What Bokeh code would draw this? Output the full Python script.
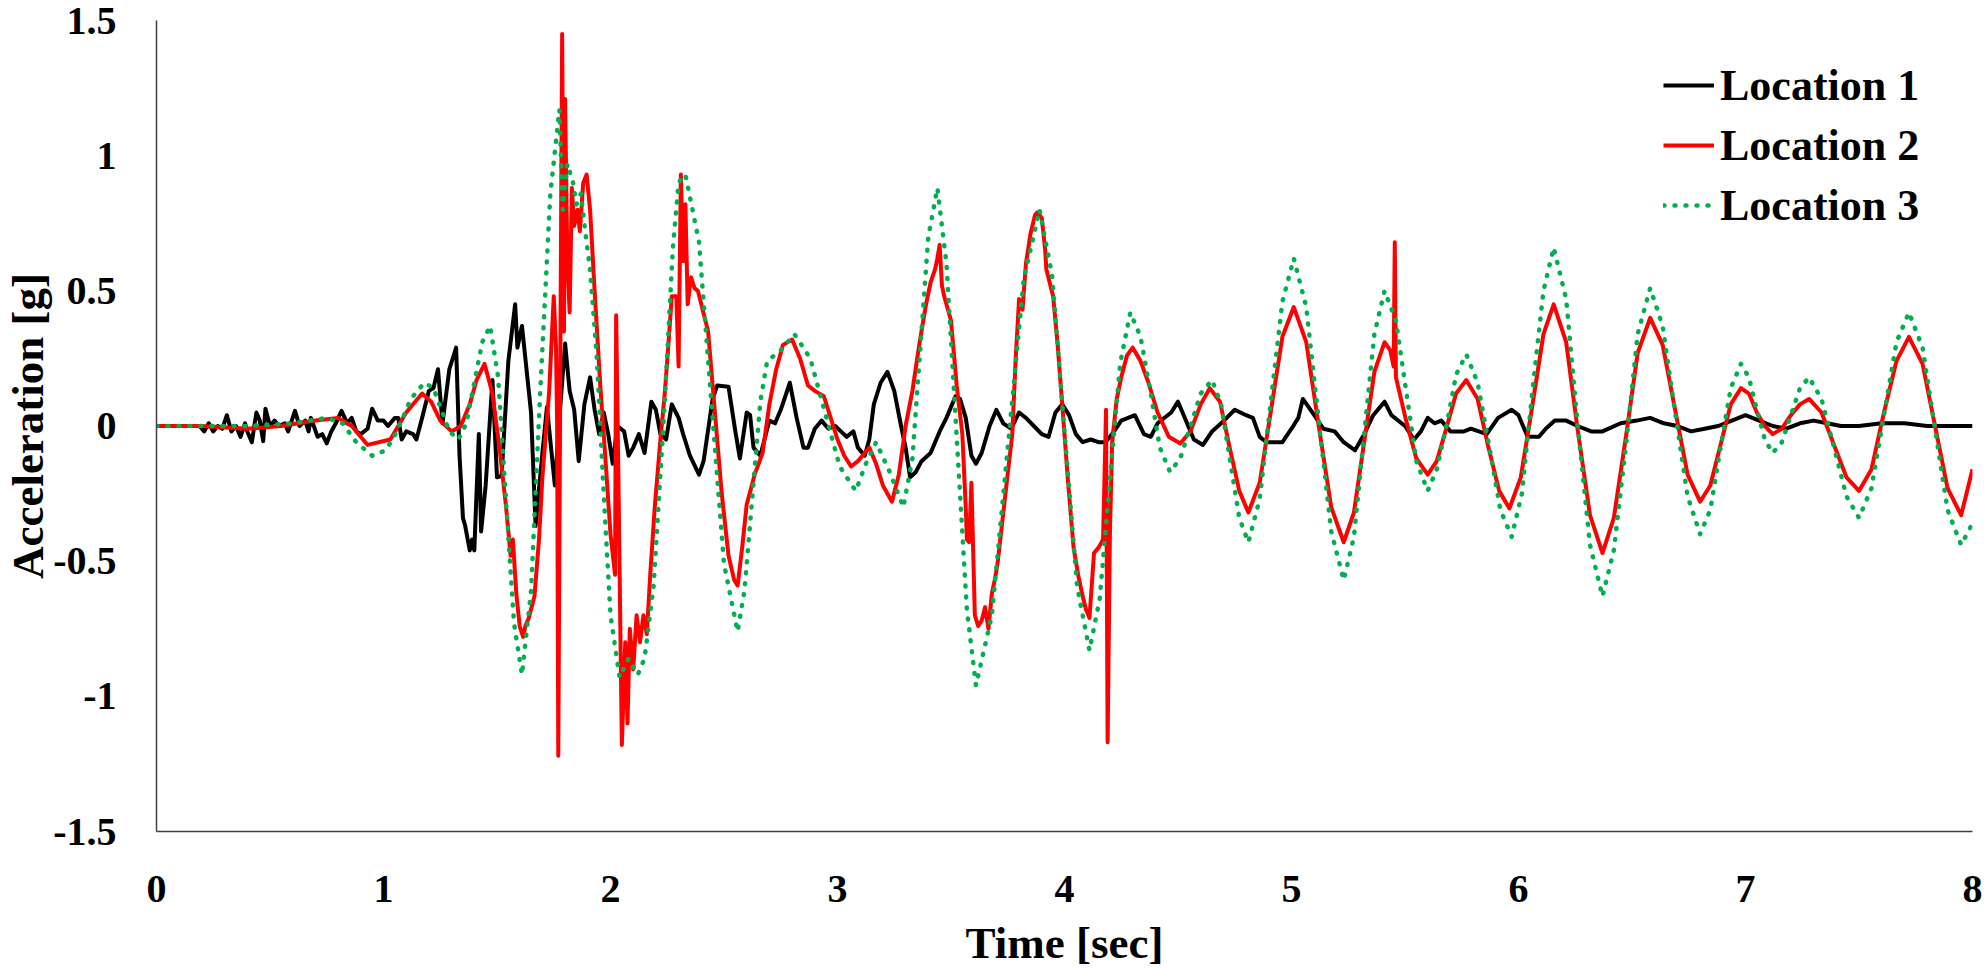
from bokeh.plotting import figure
from bokeh.models import FixedTicker, CustomJSTickFormatter, Legend, LegendItem, Range1d
from bokeh.embed import file_html
from bokeh.resources import INLINE

# ---------------- data (time [s], acceleration [g]) ----------------
location_1 = [
    (0.00,0.00),(0.19,0.00),(0.21,-0.02),(0.23,0.01),(0.25,-0.02),(0.27,0.00),(0.29,-0.01),(0.31,0.04),
    (0.33,-0.02),(0.35,0.00),(0.37,-0.04),(0.39,0.01),(0.40,-0.02),(0.42,-0.06),(0.44,0.05),(0.455,0.02),
    (0.47,-0.056),(0.48,0.064),(0.50,0.00),(0.52,0.02),(0.54,0.00),(0.565,0.01),(0.58,-0.02),(0.61,0.056),
    (0.63,0.00),(0.655,0.02),(0.67,-0.02),(0.68,0.03),(0.71,-0.04),(0.73,-0.03),(0.75,-0.064),(0.77,-0.02),
    (0.79,0.01),(0.815,0.056),(0.84,0.01),(0.86,0.03),(0.88,-0.02),(0.90,-0.03),(0.915,-0.02),(0.93,-0.01),
    (0.95,0.064),(0.975,0.02),(1.00,0.02),(1.02,0.00),(1.05,0.03),(1.065,0.03),(1.08,-0.05),(1.10,-0.02),
    (1.13,-0.03),(1.145,-0.05),(1.17,0.03),(1.20,0.13),(1.22,0.14),(1.24,0.21),(1.26,0.01),(1.29,0.21),
    (1.32,0.29),(1.335,-0.11),(1.35,-0.34),(1.36,-0.37),(1.38,-0.46),(1.39,-0.42),(1.40,-0.46),(1.42,-0.03),
    (1.43,-0.39),(1.45,-0.22),(1.48,0.17),(1.50,-0.19),(1.52,-0.185),(1.55,0.24),(1.58,0.45),(1.59,0.29),
    (1.61,0.37),(1.62,0.29),(1.65,0.05),(1.67,-0.37),(1.70,-0.10),(1.72,0.07),(1.755,-0.22),(1.775,0.03),
    (1.80,0.305),(1.82,0.13),(1.84,0.06),(1.86,-0.13),(1.885,0.08),(1.91,0.18),(1.93,0.06),(1.95,-0.03),
    (1.97,0.05),(1.99,-0.03),(2.01,-0.14),(2.03,0.00),(2.06,-0.02),(2.08,-0.11),(2.10,-0.08),(2.125,-0.03),
    (2.15,-0.10),(2.18,0.09),(2.20,0.06),(2.22,-0.03),(2.245,-0.05),(2.27,0.08),(2.30,0.03),(2.32,-0.03),
    (2.35,-0.11),(2.39,-0.18),(2.41,-0.13),(2.45,0.10),(2.47,0.15),(2.52,0.145),(2.55,-0.02),(2.57,-0.12),
    (2.60,0.05),(2.615,0.04),(2.63,-0.08),(2.66,-0.11),(2.70,0.02),(2.725,0.01),(2.75,0.06),(2.79,0.16),
    (2.82,0.03),(2.85,-0.08),(2.87,-0.08),(2.90,-0.01),(2.93,0.02),(2.96,-0.01),(2.99,0.00),(3.015,-0.02),
    (3.04,-0.04),(3.07,-0.02),(3.09,-0.08),(3.12,-0.11),(3.14,-0.05),(3.16,0.08),(3.19,0.16),(3.22,0.20),
    (3.25,0.13),(3.28,0.00),(3.30,-0.08),(3.32,-0.19),(3.345,-0.17),(3.37,-0.13),(3.41,-0.10),(3.45,-0.02),
    (3.48,0.03),(3.52,0.11),(3.54,0.10),(3.565,0.03),(3.59,-0.11),(3.61,-0.14),(3.635,-0.10),(3.67,0.00),
    (3.70,0.06),(3.73,0.01),(3.765,-0.01),(3.80,0.05),(3.83,0.03),(3.865,0.00),(3.90,-0.03),(3.93,-0.04),
    (3.96,0.05),(3.99,0.08),(4.02,0.04),(4.05,-0.03),(4.08,-0.06),(4.115,-0.05),(4.15,-0.06),(4.18,-0.06),
    (4.21,-0.03),(4.25,0.02),(4.31,0.04),(4.35,-0.03),(4.38,-0.04),(4.41,0.01),(4.47,0.05),(4.50,0.09),
    (4.52,0.05),(4.57,-0.05),(4.61,-0.07),(4.65,-0.02),(4.69,0.01),(4.75,0.06),(4.80,0.04),(4.83,0.03),
    (4.86,-0.04),(4.89,-0.06),(4.96,-0.06),(5.00,-0.01),(5.03,0.03),(5.05,0.10),(5.10,0.04),(5.14,-0.01),
    (5.19,-0.02),(5.23,-0.06),(5.28,-0.09),(5.32,-0.03),(5.36,0.04),(5.41,0.09),(5.44,0.04),(5.50,0.00),
    (5.54,-0.05),(5.57,-0.02),(5.60,0.03),(5.63,0.01),(5.66,0.02),(5.70,-0.02),(5.76,-0.02),(5.79,-0.01),
    (5.86,-0.03),(5.91,0.03),(5.97,0.06),(6.00,0.04),(6.04,-0.04),(6.09,-0.04),(6.12,-0.01),(6.16,0.02),
    (6.21,0.02),(6.26,0.00),(6.32,-0.02),(6.37,-0.02),(6.45,0.01),(6.52,0.02),(6.58,0.03),(6.64,0.01),
    (6.70,0.00),(6.76,-0.02),(6.82,-0.01),(6.88,0.00),(6.94,0.02),(7.00,0.04),(7.06,0.02),(7.12,0.00),
    (7.18,-0.01),(7.24,0.01),(7.30,0.02),(7.36,0.01),(7.42,0.00),(7.50,0.00),(7.60,0.01),(7.70,0.01),
    (7.80,0.00),(7.90,0.00),(8.00,0.00),
]

location_2 = [
    (0.00,0.00),(0.20,0.00),(0.40,-0.01),(0.55,0.00),(0.70,0.02),(0.80,0.03),(0.86,0.00),(0.93,-0.07),
    (1.03,-0.05),(1.10,0.05),(1.17,0.12),(1.21,0.09),(1.25,0.02),(1.30,-0.02),(1.34,0.00),(1.38,0.08),
    (1.41,0.17),(1.445,0.23),(1.48,0.12),(1.515,-0.11),(1.54,-0.30),(1.56,-0.48),(1.57,-0.42),(1.585,-0.62),
    (1.60,-0.74),(1.615,-0.78),(1.625,-0.74),(1.64,-0.71),(1.665,-0.63),(1.685,-0.42),(1.70,-0.19),(1.73,0.13),
    (1.75,0.48),(1.76,0.29),(1.765,0.00),(1.77,-1.22),(1.78,0.40),(1.787,1.45),(1.795,0.35),(1.80,1.21),
    (1.81,0.61),(1.82,0.42),(1.83,0.88),(1.84,0.74),(1.855,0.80),(1.865,0.72),(1.88,0.90),(1.895,0.93),
    (1.91,0.80),(1.93,0.50),(1.955,0.15),(1.98,-0.15),(2.00,-0.40),(2.02,-0.55),(2.025,0.41),(2.035,-0.20),
    (2.05,-1.18),(2.065,-0.80),(2.075,-1.10),(2.085,-0.75),(2.10,-0.90),(2.115,-0.70),(2.13,-0.80),(2.145,-0.70),
    (2.16,-0.77),(2.175,-0.55),(2.195,-0.30),(2.22,-0.05),(2.24,0.13),(2.255,0.30),(2.27,0.48),(2.29,0.48),
    (2.30,0.22),(2.31,0.93),(2.32,0.61),(2.33,0.82),(2.34,0.45),(2.355,0.55),(2.37,0.51),(2.385,0.50),
    (2.40,0.45),(2.43,0.35),(2.46,0.05),(2.49,-0.25),(2.52,-0.48),(2.545,-0.57),(2.56,-0.59),(2.58,-0.45),
    (2.60,-0.29),(2.635,-0.18),(2.67,-0.10),(2.70,0.08),(2.73,0.21),(2.76,0.30),(2.80,0.32),(2.835,0.25),
    (2.87,0.15),(2.90,0.13),(2.94,0.11),(2.97,0.03),(3.00,-0.05),(3.03,-0.11),(3.06,-0.15),(3.09,-0.13),
    (3.11,-0.11),(3.14,-0.08),(3.17,-0.14),(3.20,-0.22),(3.24,-0.28),(3.27,-0.18),(3.30,0.00),(3.33,0.13),
    (3.36,0.30),(3.39,0.45),(3.41,0.53),(3.43,0.58),(3.44,0.62),(3.45,0.67),(3.46,0.52),(3.47,0.48),
    (3.50,0.39),(3.525,0.15),(3.55,-0.03),(3.565,-0.30),(3.57,-0.42),(3.58,-0.43),(3.59,-0.21),(3.605,-0.70),
    (3.62,-0.74),(3.635,-0.72),(3.65,-0.67),(3.665,-0.75),(3.68,-0.62),(3.695,-0.56),(3.705,-0.51),(3.74,-0.25),
    (3.77,-0.03),(3.785,0.25),(3.80,0.47),(3.815,0.43),(3.83,0.60),(3.85,0.71),(3.87,0.78),(3.88,0.79),
    (3.90,0.77),(3.915,0.65),(3.92,0.58),(3.95,0.48),(3.97,0.30),(3.99,0.08),(4.015,-0.20),(4.04,-0.45),
    (4.06,-0.55),(4.08,-0.63),(4.095,-0.68),(4.11,-0.71),(4.13,-0.47),(4.15,-0.45),(4.17,-0.42),(4.183,0.06),
    (4.19,-1.17),(4.20,-0.40),(4.21,-0.06),(4.23,0.10),(4.25,0.18),(4.275,0.26),(4.30,0.29),(4.335,0.24),
    (4.37,0.16),(4.41,0.05),(4.46,-0.04),(4.51,-0.065),(4.555,-0.02),(4.60,0.08),(4.64,0.14),(4.685,0.09),
    (4.725,-0.07),(4.77,-0.24),(4.81,-0.32),(4.86,-0.21),(4.91,0.06),(4.96,0.33),(5.01,0.44),(5.065,0.31),
    (5.12,0.00),(5.175,-0.30),(5.23,-0.43),(5.275,-0.32),(5.32,-0.06),(5.365,0.20),(5.41,0.31),(5.435,0.28),
    (5.45,0.22),(5.455,0.68),(5.46,0.18),(5.505,0.02),(5.55,-0.12),(5.60,-0.18),(5.64,-0.13),(5.685,0.00),
    (5.725,0.12),(5.77,0.17),(5.82,0.10),(5.865,-0.07),(5.915,-0.24),(5.96,-0.305),(6.01,-0.19),(6.06,0.07),
    (6.11,0.34),(6.155,0.45),(6.21,0.31),(6.26,-0.01),(6.315,-0.33),(6.37,-0.47),(6.42,-0.34),(6.475,-0.03),
    (6.525,0.27),(6.58,0.40),(6.635,0.30),(6.69,0.06),(6.745,-0.18),(6.80,-0.28),(6.845,-0.22),(6.89,-0.07),
    (6.935,0.08),(6.98,0.14),(7.015,0.12),(7.05,0.05),(7.085,0.00),(7.12,-0.03),(7.16,-0.01),(7.20,0.04),
    (7.24,0.08),(7.28,0.10),(7.335,0.05),(7.39,-0.07),(7.445,-0.19),(7.50,-0.24),(7.555,-0.16),(7.61,0.05),
    (7.665,0.24),(7.72,0.33),(7.78,0.23),(7.835,0.00),(7.89,-0.23),(7.95,-0.33),(8.00,-0.16),
]

location_3 = [
    (0.00,0.00),(0.20,0.00),(0.40,0.00),(0.60,0.01),(0.75,0.03),(0.82,0.01),(0.88,-0.06),(0.95,-0.11),
    (1.01,-0.09),(1.06,-0.02),(1.12,0.10),(1.18,0.16),(1.22,0.14),(1.255,0.06),(1.29,-0.02),(1.33,-0.05),
    (1.365,0.01),(1.40,0.16),(1.435,0.31),(1.47,0.37),(1.505,0.18),(1.54,-0.28),(1.575,-0.73),(1.61,-0.92),
    (1.65,-0.61),(1.69,0.12),(1.735,0.86),(1.775,1.17),(1.79,0.80),(1.81,0.97),(1.835,0.90),(1.85,0.82),
    (1.87,0.86),(1.89,0.71),(1.91,0.58),(1.94,0.25),(1.97,-0.25),(2.00,-0.70),(2.04,-0.93),(2.08,-0.86),
    (2.12,-0.92),(2.15,-0.86),(2.19,-0.59),(2.235,0.03),(2.275,0.66),(2.30,0.90),(2.33,0.93),(2.39,0.68),
    (2.445,0.08),(2.50,-0.51),(2.56,-0.76),(2.59,-0.61),(2.625,-0.26),(2.66,0.09),(2.69,0.24),(2.75,0.28),
    (2.81,0.34),(2.88,0.25),(2.945,0.05),(3.01,-0.15),(3.08,-0.24),(3.125,-0.14),(3.17,-0.06),(3.23,-0.17),
    (3.29,-0.30),(3.33,-0.12),(3.365,0.29),(3.40,0.70),(3.44,0.88),(3.48,0.60),(3.525,-0.04),(3.57,-0.68),
    (3.61,-0.96),(3.68,-0.70),(3.75,-0.08),(3.82,0.54),(3.89,0.80),(3.945,0.56),(4.00,-0.02),(4.055,-0.59),
    (4.11,-0.83),(4.155,-0.64),(4.20,-0.20),(4.245,0.23),(4.29,0.42),(4.335,0.33),(4.38,0.12),(4.42,-0.08),
    (4.465,-0.17),(4.51,-0.12),(4.555,0.00),(4.60,0.12),(4.65,0.17),(4.69,0.08),(4.73,-0.13),(4.77,-0.34),
    (4.81,-0.43),(4.86,-0.27),(4.91,0.10),(4.96,0.46),(5.01,0.62),(5.065,0.44),(5.12,0.02),(5.175,-0.39),
    (5.23,-0.57),(5.275,-0.41),(5.32,-0.03),(5.365,0.34),(5.41,0.50),(5.46,0.39),(5.505,0.13),(5.55,-0.13),
    (5.60,-0.24),(5.64,-0.16),(5.685,0.01),(5.725,0.19),(5.77,0.265),(5.82,0.16),(5.87,-0.07),(5.92,-0.31),
    (5.97,-0.41),(6.015,-0.25),(6.06,0.12),(6.11,0.50),(6.155,0.66),(6.21,0.47),(6.26,0.01),(6.315,-0.44),
    (6.37,-0.63),(6.42,-0.46),(6.475,-0.06),(6.525,0.34),(6.58,0.51),(6.635,0.37),(6.69,0.05),(6.745,-0.26),
    (6.80,-0.40),(6.845,-0.31),(6.89,-0.08),(6.935,0.14),(6.98,0.23),(7.015,0.18),(7.05,0.06),(7.085,-0.05),
    (7.12,-0.10),(7.16,-0.06),(7.20,0.04),(7.24,0.14),(7.28,0.18),(7.335,0.10),(7.39,-0.08),(7.445,-0.26),
    (7.50,-0.34),(7.555,-0.23),(7.61,0.04),(7.665,0.31),(7.72,0.42),(7.78,0.29),(7.835,-0.01),(7.89,-0.31),
    (7.95,-0.44),(8.00,-0.36),
]

series_names = ["Location 1", "Location 2", "Location 3"]
x_ticks = [0, 1, 2, 3, 4, 5, 6, 7, 8]
y_ticks = [-1.5, -1, -0.5, 0, 0.5, 1, 1.5]
x_title = "Time [sec]"
y_title = "Acceleration [g]"

FONT = "Liberation Serif"

p = figure(width=1986, height=970, output_backend="svg", toolbar_location=None,
           x_range=Range1d(0, 8), y_range=Range1d(-1.5, 1.5),
           min_border_left=156, min_border_right=14, min_border_top=20, min_border_bottom=137)
p.outline_line_color = None
p.xgrid.visible = False
p.ygrid.visible = False
p.background_fill_color = "white"

def split(data):
    return [d[0] for d in data], [d[1] for d in data]

t1, a1 = split(location_1)
t2, a2 = split(location_2)
t3, a3 = split(location_3)

r1 = p.line(t1, a1, line_color="black", line_width=4, line_join="round")
r2 = p.line(t2, a2, line_color="#FF0000", line_width=4, line_join="round")
r3 = p.line(t3, a3, line_color="#00B050", line_width=4.5, line_dash="1 10", line_cap="round", line_join="round")

fmt = CustomJSTickFormatter(code="return String(tick);")
for ax, ticks in ((p.xaxis[0], x_ticks), (p.yaxis[0], y_ticks)):
    ax.ticker = FixedTicker(ticks=ticks)
    ax.formatter = fmt
    ax.major_tick_line_color = None
    ax.minor_tick_line_color = None
    ax.axis_line_color = "#404040"
    ax.axis_line_width = 1.5
    ax.major_label_text_font = FONT
    ax.major_label_text_font_style = "bold"
    ax.major_label_text_font_size = "40px"
    ax.major_label_text_color = "black"
    ax.axis_label_text_font = FONT
    ax.axis_label_text_font_style = "bold"
    ax.axis_label_text_font_size = "45px"
    ax.axis_label_text_color = "black"

p.xaxis[0].axis_label = x_title
p.xaxis[0].major_label_standoff = 38
p.xaxis[0].axis_label_standoff = 13
p.yaxis[0].axis_label = y_title
p.yaxis[0].major_label_standoff = 34
p.yaxis[0].axis_label_standoff = -3

legend = Legend(items=[LegendItem(label=series_names[0], renderers=[r1]),
                       LegendItem(label=series_names[1], renderers=[r2]),
                       LegendItem(label=series_names[2], renderers=[r3])],
                location=(1507, 596), orientation="vertical")
legend.border_line_color = None
legend.background_fill_alpha = 0
legend.padding = 0
legend.margin = 0
legend.spacing = 0
legend.glyph_width = 51
legend.glyph_height = 60
legend.label_standoff = 6
legend.label_text_font = FONT
legend.label_text_font_style = "bold"
legend.label_text_font_size = "44px"
legend.label_text_color = "black"
legend.label_height = 60
p.add_layout(legend)

open("out.html", "w").write(file_html(p, INLINE))
